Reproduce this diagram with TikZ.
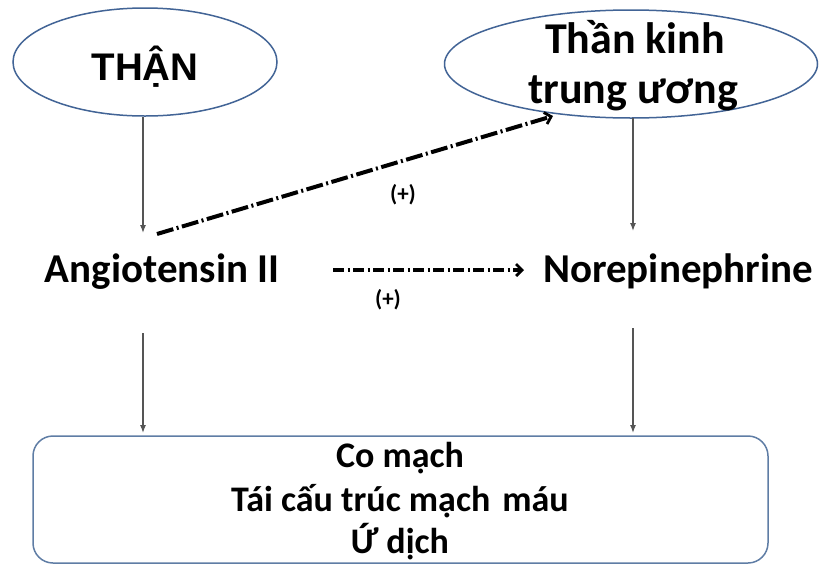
\documentclass[tikz,border=0pt]{standalone}
\usepackage{fontspec}
\setmainfont{Carlito}
\newfontfamily\headfont{Liberation Sans}
\usetikzlibrary{shapes.geometric,arrows.meta}
\definecolor{ovalblue}{RGB}{66,100,150}
\definecolor{boxblue}{RGB}{95,125,165}
\definecolor{stemgrey}{RGB}{85,85,85}
\begin{document}
\begin{tikzpicture}[x=1pt,y=-1pt,
  oval/.style={ellipse,draw=ovalblue,line width=1.5pt,inner sep=0pt},
  lbl/.style={inner sep=0pt,align=center},
  stem/.style={draw=stemgrey,line width=1.3pt,-{Latex[length=8pt,width=6pt]}},
  boost/.style={draw=black,line width=4pt,
    -{Straight Barb[length=6pt,width=12pt,line width=2.8pt]}},
  longdash/.style={dash pattern=on 17pt off 3.5pt on 2pt off 3.5pt},
  shortdash/.style={dash pattern=on 11pt off 3.5pt on 2pt off 3.5pt,line width=3.6pt},
  plus/.style={font=\bfseries\fontsize{23}{25}\selectfont,inner sep=0pt}]
\useasboundingbox (0,0) rectangle (820,563);
\fill[white] (0,0) rectangle (820,563);

% source ovals
\node[oval,minimum width=264pt,minimum height=108pt] (kid) at (145,62) {};
\node[lbl,anchor=base,font=\headfont\bfseries\fontsize{38.5}{42}\selectfont] (kidT) at (145,80) {THẬN};
\node[oval,minimum width=373pt,minimum height=108pt] (cns) at (631,64) {};
\node[lbl,anchor=base,font=\bfseries\fontsize{44}{49}\selectfont] (cnsA) at (635,53) {Thần kinh};
\node[lbl,anchor=base,font=\bfseries\fontsize{44}{49}\selectfont] (cnsB) at (633,103) {trung ương};

% mediators
\node[lbl,anchor=base,font=\bfseries\fontsize{41}{45}\selectfont] (ang) at (162,282) {Angiotensin II};
\node[lbl,anchor=base,font=\bfseries\fontsize{41}{45}\selectfont] (nor) at (678,282) {Norepinephrine};

% effects box
\node[draw=boxblue,line width=1.5pt,rounded corners=20pt,minimum width=735pt,minimum height=127pt,inner sep=0pt] (eff) at (400.5,499.5) {};
\node[lbl,anchor=base,font=\bfseries\fontsize{36}{40}\selectfont] (e1) at (400,467) {Co mạch};
\node[lbl,anchor=base,font=\bfseries\fontsize{36}{40}\selectfont] (e2) at (400,511) {Tái cấu trúc mạch\,\,máu};
\node[lbl,anchor=base,font=\bfseries\fontsize{36}{40}\selectfont] (e3) at (400,553) {Ứ dịch};

% connector ends
\coordinate (kidOut) at (143,117);
\coordinate (angIn) at (143,233);
\coordinate (angOut) at (143,333);
\coordinate (effL) at (143,433);
\coordinate (cnsOut) at (633,118);
\coordinate (norIn) at (633,231);
\coordinate (norOut) at (633,328);
\coordinate (effR) at (633,433);
\coordinate (diagS) at (157,234);
\coordinate (diagE) at (553,116);
\coordinate (horS) at (333,270);
\coordinate (horE) at (524,270);

\draw[stem] (kidOut) -- (angIn);
\draw[stem] (cnsOut) -- (norIn);
\draw[stem] (angOut) -- (effL);
\draw[stem] (norOut) -- (effR);

\draw[boost,longdash] (diagS) -- (diagE);
\draw[boost,shortdash] (horS) -- (horE);
\node[plus] (p1) at (403,195) {(+)};
\node[plus] (p2) at (388,300) {(+)};
\end{tikzpicture}
\end{document}
